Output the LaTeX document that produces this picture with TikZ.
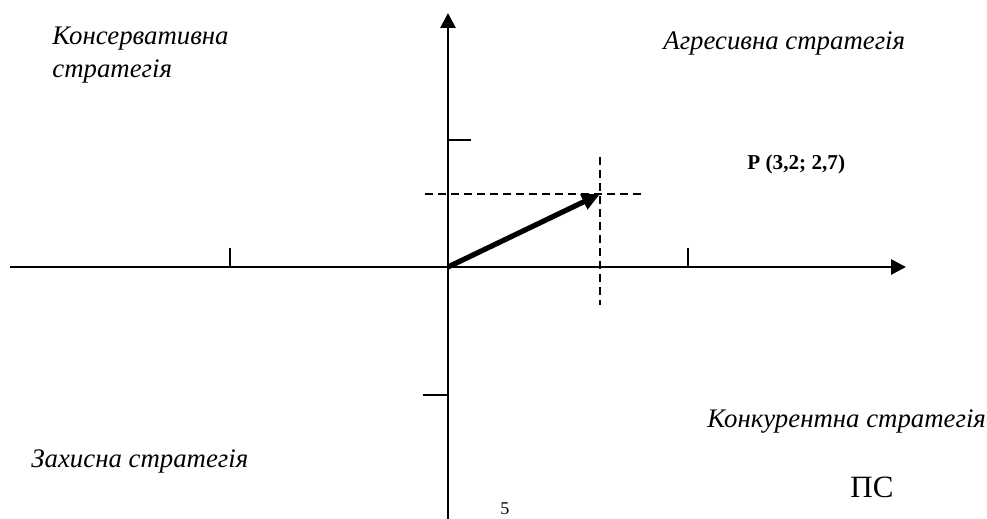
\documentclass[tikz,border=0pt]{standalone}
\usepackage{fontspec}
\setmainfont{Liberation Serif}
\usetikzlibrary{arrows.meta}
\begin{document}
\begin{tikzpicture}[x=0.5pt,y=-0.5pt,
  axis/.style={line width=1.4pt},
  axtip/.style={-{Triangle[length=7.5pt,width=7.5pt]}},
  guide/.style={line width=0.9pt,dash pattern=on 4pt off 2.5pt},
  vec/.style={line width=2.6pt,-{Triangle[length=9pt,width=8pt]}},
  quad/.style={font=\fontsize{13.4}{15}\selectfont\itshape,inner sep=0pt,anchor=base west,align=left},
  tickmark/.style={line width=1pt}]
\useasboundingbox (0,0) rectangle (987,519);
% coordinates
\coordinate (O) at (448,267);
\coordinate (xl) at (10,267);
\coordinate (xr) at (906,267);
\coordinate (yt) at (448,13);
\coordinate (yb) at (448,519);
\coordinate (P) at (600,194);
\coordinate (hl) at (425,194);
\coordinate (hr) at (643,194);
\coordinate (vt) at (600,157);
\coordinate (vb) at (600,305);
% ticks
\coordinate (t1a) at (230,248); \coordinate (t1b) at (230,267);
\coordinate (t2a) at (688,248); \coordinate (t2b) at (688,267);
\coordinate (t3a) at (448,140); \coordinate (t3b) at (471,140);
\coordinate (t4a) at (423,395); \coordinate (t4b) at (448,395);
% axes
\draw[axis,axtip] (xl) -- (xr);
\draw[axis,axtip] (yb) -- (yt);
\draw[tickmark] (t1a) -- (t1b);
\draw[tickmark] (t2a) -- (t2b);
\draw[tickmark] (t3a) -- (t3b);
\draw[tickmark] (t4a) -- (t4b);
% guides
\draw[guide] (hl) -- (hr);
\draw[guide] (vt) -- (vb);
% vector
\draw[vec] (O) -- (P);
% labels
\node[quad] (kons) at (52,45) {Консервативна};
\node[quad] (kons2) at (52,78) {стратегія};
\node[quad] (agr) at (663,50) {Агресивна стратегія};
\node[quad] (konk) at (707,428) {Конкурентна стратегія};
\node[quad] (zah) at (31,467) {Захисна стратегія};
\node[font=\fontsize{10.6}{12}\selectfont\bfseries,inner sep=0pt,anchor=base west] (plab) at (747,170) {P (3,2; 2,7)};
\node[font=\fontsize{15.5}{18}\selectfont,inner sep=0pt,anchor=base west] (ps) at (850,497) {ПС};
\node[font=\fontsize{9}{11}\selectfont,inner sep=0pt,anchor=base west] (five) at (500,514) {5};
\end{tikzpicture}
\end{document}
